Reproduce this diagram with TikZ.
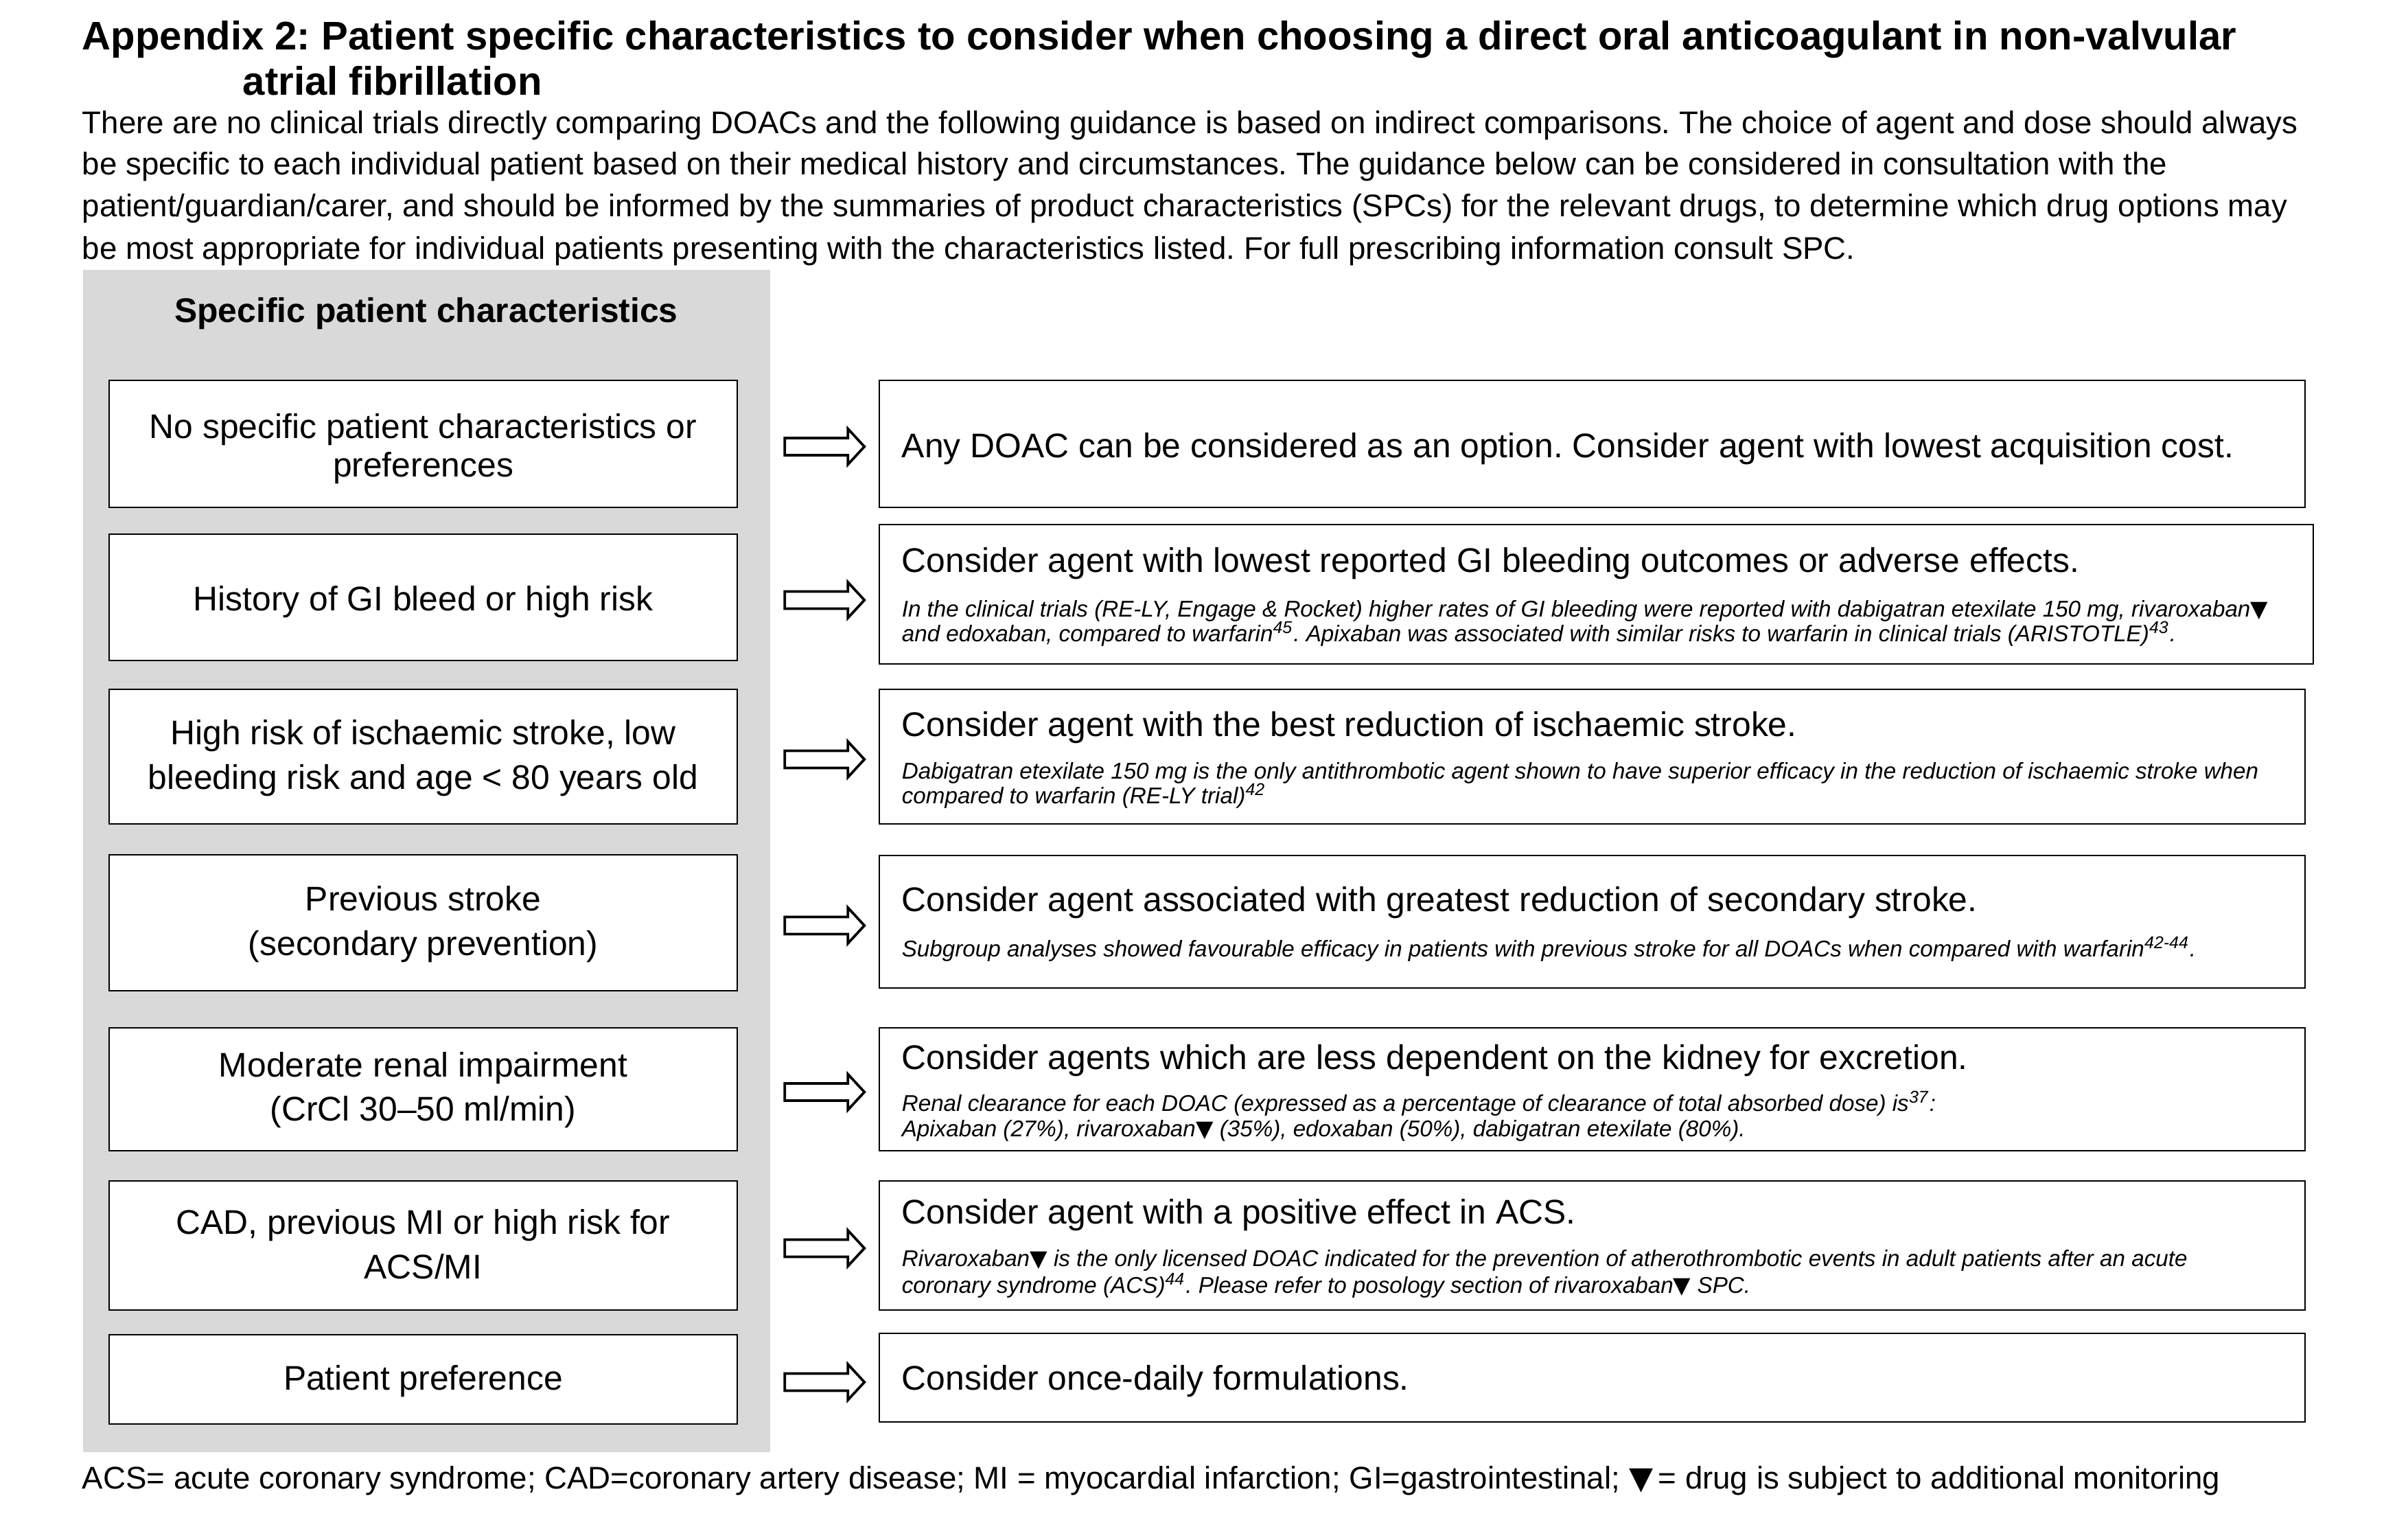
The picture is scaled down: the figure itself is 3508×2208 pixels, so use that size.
\documentclass[tikz,border=0pt]{standalone}
\usepackage{fontspec}
\setmainfont{Liberation Sans}
\newfontfamily\symfont{DejaVu Sans}
\newcommand\tri{{\symfont\upshape ▼}}
\usetikzlibrary{calc}
\newlength\pxu
\setlength\pxu{0.0084664cm}
\definecolor{panelgray}{HTML}{D9D9D9}
\tikzset{
  lbox/.style={draw, line width=0.6pt, fill=white, minimum width=915\pxu, inner sep=0pt},
  ltext/.style={inner sep=0pt, align=center, font=\fontsize{12}{15.6}\selectfont},
  rbox/.style={draw, line width=0.6pt, fill=white, minimum width=2077\pxu, inner sep=0pt},
  mtext/.style={anchor=base west, inner sep=0pt, font=\fontsize{12}{14}\selectfont},
  stext/.style={anchor=base west, inner sep=0pt, font=\fontsize{8}{9}\selectfont\itshape},
  ptext/.style={anchor=base west, inner sep=0pt, font=\fontsize{11}{13}\selectfont},
  ttext/.style={anchor=base west, inner sep=0pt, font=\fontsize{14}{16}\selectfont\bfseries},
  blockarrow/.style={draw, line width=0.9pt, fill=white, line join=miter},
}
\newcommand\blockarr[1]{\draw[blockarrow] ($(#1)+(-58,-12.5)$) -- ++(92,0) -- ++(0,-13.5) -- ++(24,26) -- ++(-24,26) -- ++(0,-13.5) -- ++(-92,0) -- cycle;}
\begin{document}
\frenchspacing
\begin{tikzpicture}[x=0.0084664cm, y=-0.0084664cm]
\useasboundingbox[fill=white] (0,0) rectangle (3508,2208);

% title
\node[ttext] (t1) at (119,73) {Appendix 2: Patient specific characteristics to consider when choosing a direct oral anticoagulant in non-valvular};
\node[ttext] (t2) at (353,139) {atrial fibrillation};

% intro paragraph
\node[ptext] (p1) at (119,195) {There are no clinical trials directly comparing DOACs and the following guidance is based on indirect comparisons. The choice of agent and dose should always};
\node[ptext] (p2) at (119,255) {be specific to each individual patient based on their medical history and circumstances. The guidance below can be considered in consultation with the};
\node[ptext] (p3) at (119,316) {patient/guardian/carer, and should be informed by the summaries of product characteristics (SPCs) for the relevant drugs, to determine which drug options may};
\node[ptext] (p4) at (119,378) {be most appropriate for individual patients presenting with the characteristics listed. For full prescribing information consult SPC.};

% grey panel
\node[fill=panelgray, inner sep=0pt, minimum width=1001\pxu, minimum height=1722\pxu] (panel) at (621.5,1254) {};
\node[anchor=base, inner sep=0pt, font=\fontsize{12}{14}\selectfont\bfseries] (head) at (621,470) {Specific patient characteristics};

% left boxes
\node[lbox, minimum height=185\pxu] (l1) at (616.5,646.5) {};
\node[lbox, minimum height=184\pxu] (l2) at (616.5,870) {};
\node[lbox, minimum height=196\pxu] (l3) at (616.5,1102) {};
\node[lbox, minimum height=198\pxu] (l4) at (616.5,1344) {};
\node[lbox, minimum height=179\pxu] (l5) at (616.5,1586.5) {};
\node[lbox, minimum height=188\pxu] (l6) at (616.5,1814) {};
\node[lbox, minimum height=130\pxu] (l7) at (616.5,2009) {};

\node[ltext, font=\fontsize{12}{13.5}\selectfont] (l1t) at ($(l1)+(0,7)$) {No specific patient characteristics or\\preferences};
\node[ltext] (l2t) at ($(l2)+(0,7)$) {History of GI bleed or high risk};
\node[ltext] (l3t) at ($(l3)+(0,2)$) {High risk of ischaemic stroke, low\\bleeding risk and age < 80 years old};
\node[ltext] (l4t) at ($(l4)+(0,2)$) {Previous stroke\\(secondary prevention)};
\node[ltext] (l5t) at ($(l5)+(0,1)$) {Moderate renal impairment\\(CrCl 30–50 ml/min)};
\node[ltext] (l6t) at ($(l6)+(0,-2)$) {CAD, previous MI or high risk for\\ACS/MI};
\node[ltext] (l7t) at ($(l7)+(0,3)$) {Patient preference};

% right boxes
\node[rbox, minimum height=185\pxu] (r1) at (2319.5,646.5) {};
\node[rbox, minimum height=203\pxu, minimum width=2089\pxu] (r2) at (2325.5,865.5) {};
\node[rbox, minimum height=196\pxu] (r3) at (2319.5,1102) {};
\node[rbox, minimum height=193\pxu] (r4) at (2319.5,1342.5) {};
\node[rbox, minimum height=179\pxu] (r5) at (2319.5,1586.5) {};
\node[rbox, minimum height=188\pxu] (r6) at (2319.5,1814) {};
\node[rbox, minimum height=129\pxu] (r7) at (2319.5,2006.5) {};

% right texts
\node[mtext] (r1m) at (1313,667) {Any DOAC can be considered as an option. Consider agent with lowest acquisition cost.};

\node[mtext] (r2m) at (1313,834) {Consider agent with lowest reported GI bleeding outcomes or adverse effects.};
\node[stext] (r2a) at (1313,899) {In the clinical trials (RE-LY, Engage \& Rocket) higher rates of GI bleeding were reported with dabigatran etexilate 150 mg, rivaroxaban\tri};
\node[stext] (r2b) at (1313,934) {and edoxaban, compared to warfarin\textsuperscript{45}. Apixaban was associated with similar risks to warfarin in clinical trials (ARISTOTLE)\textsuperscript{43}.};

\node[mtext] (r3m) at (1313,1073) {Consider agent with the best reduction of ischaemic stroke.};
\node[stext] (r3a) at (1313,1134) {Dabigatran etexilate 150 mg is the only antithrombotic agent shown to have superior efficacy in the reduction of ischaemic stroke when};
\node[stext] (r3b) at (1313,1170) {compared to warfarin (RE-LY trial)\textsuperscript{42}};

\node[mtext] (r4m) at (1313,1327) {Consider agent associated with greatest reduction of secondary stroke.};
\node[stext] (r4a) at (1313,1393) {Subgroup analyses showed favourable efficacy in patients with previous stroke for all DOACs when compared with warfarin\textsuperscript{42-44}.};

\node[mtext] (r5m) at (1313,1557) {Consider agents which are less dependent on the kidney for excretion.};
\node[stext] (r5a) at (1313,1618) {Renal clearance for each DOAC (expressed as a percentage of clearance of total absorbed dose) is\textsuperscript{37}:};
\node[stext] (r5b) at (1313,1655) {Apixaban (27\%), rivaroxaban\tri{} (35\%), edoxaban (50\%), dabigatran etexilate (80\%).};

\node[mtext] (r6m) at (1313,1782) {Consider agent with a positive effect in ACS.};
\node[stext] (r6a) at (1313,1844) {Rivaroxaban\tri{} is the only licensed DOAC indicated for the prevention of atherothrombotic events in adult patients after an acute};
\node[stext] (r6b) at (1313,1883) {coronary syndrome (ACS)\textsuperscript{44}. Please refer to posology section of rivaroxaban\tri{} SPC.};

\node[mtext] (r7m) at (1313,2024) {Consider once-daily formulations.};

% block arrows
\foreach \i in {1,...,7}{
  \coordinate (a\i) at ($(l\i.east)+(126,4)$);
  \blockarr{a\i}
}

% footer
\node[ptext] (foot) at (119,2168) {ACS= acute coronary syndrome; CAD=coronary artery disease; MI = myocardial infarction; GI=gastrointestinal; \tri\,= drug is subject to additional monitoring};
\end{tikzpicture}
\end{document}
